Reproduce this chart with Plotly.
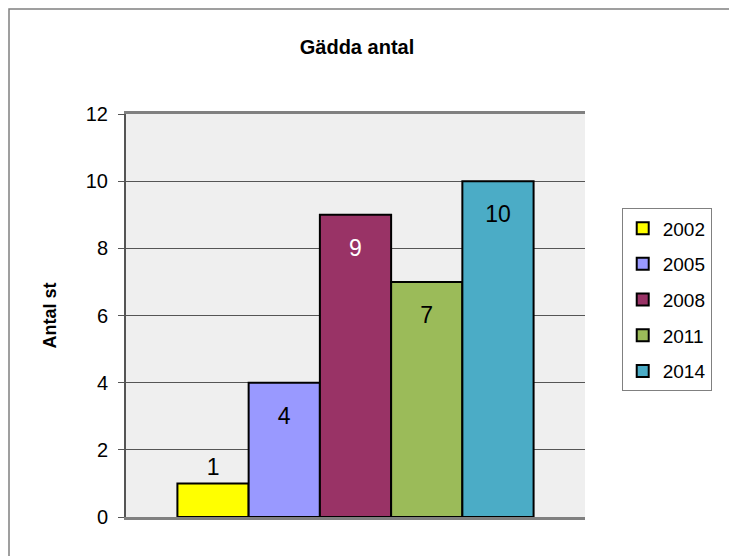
import plotly.graph_objects as go

years = ["2002", "2005", "2008", "2011", "2014"]
counts = [1, 4, 9, 7, 10]
colors = ["#FFFF00", "#9999FF", "#993366", "#9BBB59", "#4BACC6"]
label_colors = ["black", "black", "white", "black", "black"]
category = ["Gädda antal"]

pad = "<span style='font-size:9px'> </span>"

fig = go.Figure()
for i, yr in enumerate(years):
    outside = counts[i] < 2
    label = f"{counts[i]}" if outside else f"{pad}<br>{counts[i]}"
    fig.add_trace(go.Bar(
        x=category, y=[counts[i]], name=yr,
        marker=dict(color=colors[i], line=dict(color="black", width=2)),
        text=[label],
        textposition="outside" if outside else "inside",
        insidetextanchor="end",
        textfont=dict(size=23, color=label_colors[i], family="Arial, Liberation Sans"),
        cliponaxis=False,
        legendgroup=yr,
    ))

# page has an 8px body margin, so the figure starts at (8, 8)
fig.update_layout(
    width=729, height=548,
    margin=dict(l=118, r=152, t=106, b=39),
    paper_bgcolor="white", plot_bgcolor="#EFEFEF",
    font=dict(family="Arial, Liberation Sans", color="black"),
    title=dict(text="<b>Gädda antal</b>", x=349 / 729, xanchor="center",
               y=1 - 39 / 548, yanchor="middle", font=dict(size=20)),
    barmode="group", bargap=0.224, bargroupgap=0,
    showlegend=True,
    legend=dict(x=1.08, y=0.766, xanchor="left", yanchor="top",
                bordercolor="#808080", borderwidth=1,
                font=dict(size=19), tracegroupgap=8,
                traceorder="grouped", itemwidth=30),
)
fig.update_xaxes(showticklabels=False, showgrid=False, showline=True,
                 linecolor="#808080", linewidth=3, mirror=True, ticks="")
fig.update_yaxes(range=[0, 12], dtick=2, showgrid=True, gridcolor="#555555",
                 gridwidth=1, ticks="outside", ticklen=6, tickcolor="#555555",
                 ticklabelstandoff=6,
                 showline=True, linecolor="#555555", linewidth=2,
                 tickfont=dict(size=20), zeroline=False,
                 title=dict(text="<b>Antal st</b>", font=dict(size=18), standoff=24))

fig.add_shape(type="rect", xref="paper", yref="paper",
              x0=(9 - 126) / 459, x1=(760 - 126) / 459,
              y0=-0.3, y1=(517 - 9) / 403,
              line=dict(color="#808080", width=1.5), fillcolor="rgba(0,0,0,0)",
              layer="below")

fig.write_html("out.html")
